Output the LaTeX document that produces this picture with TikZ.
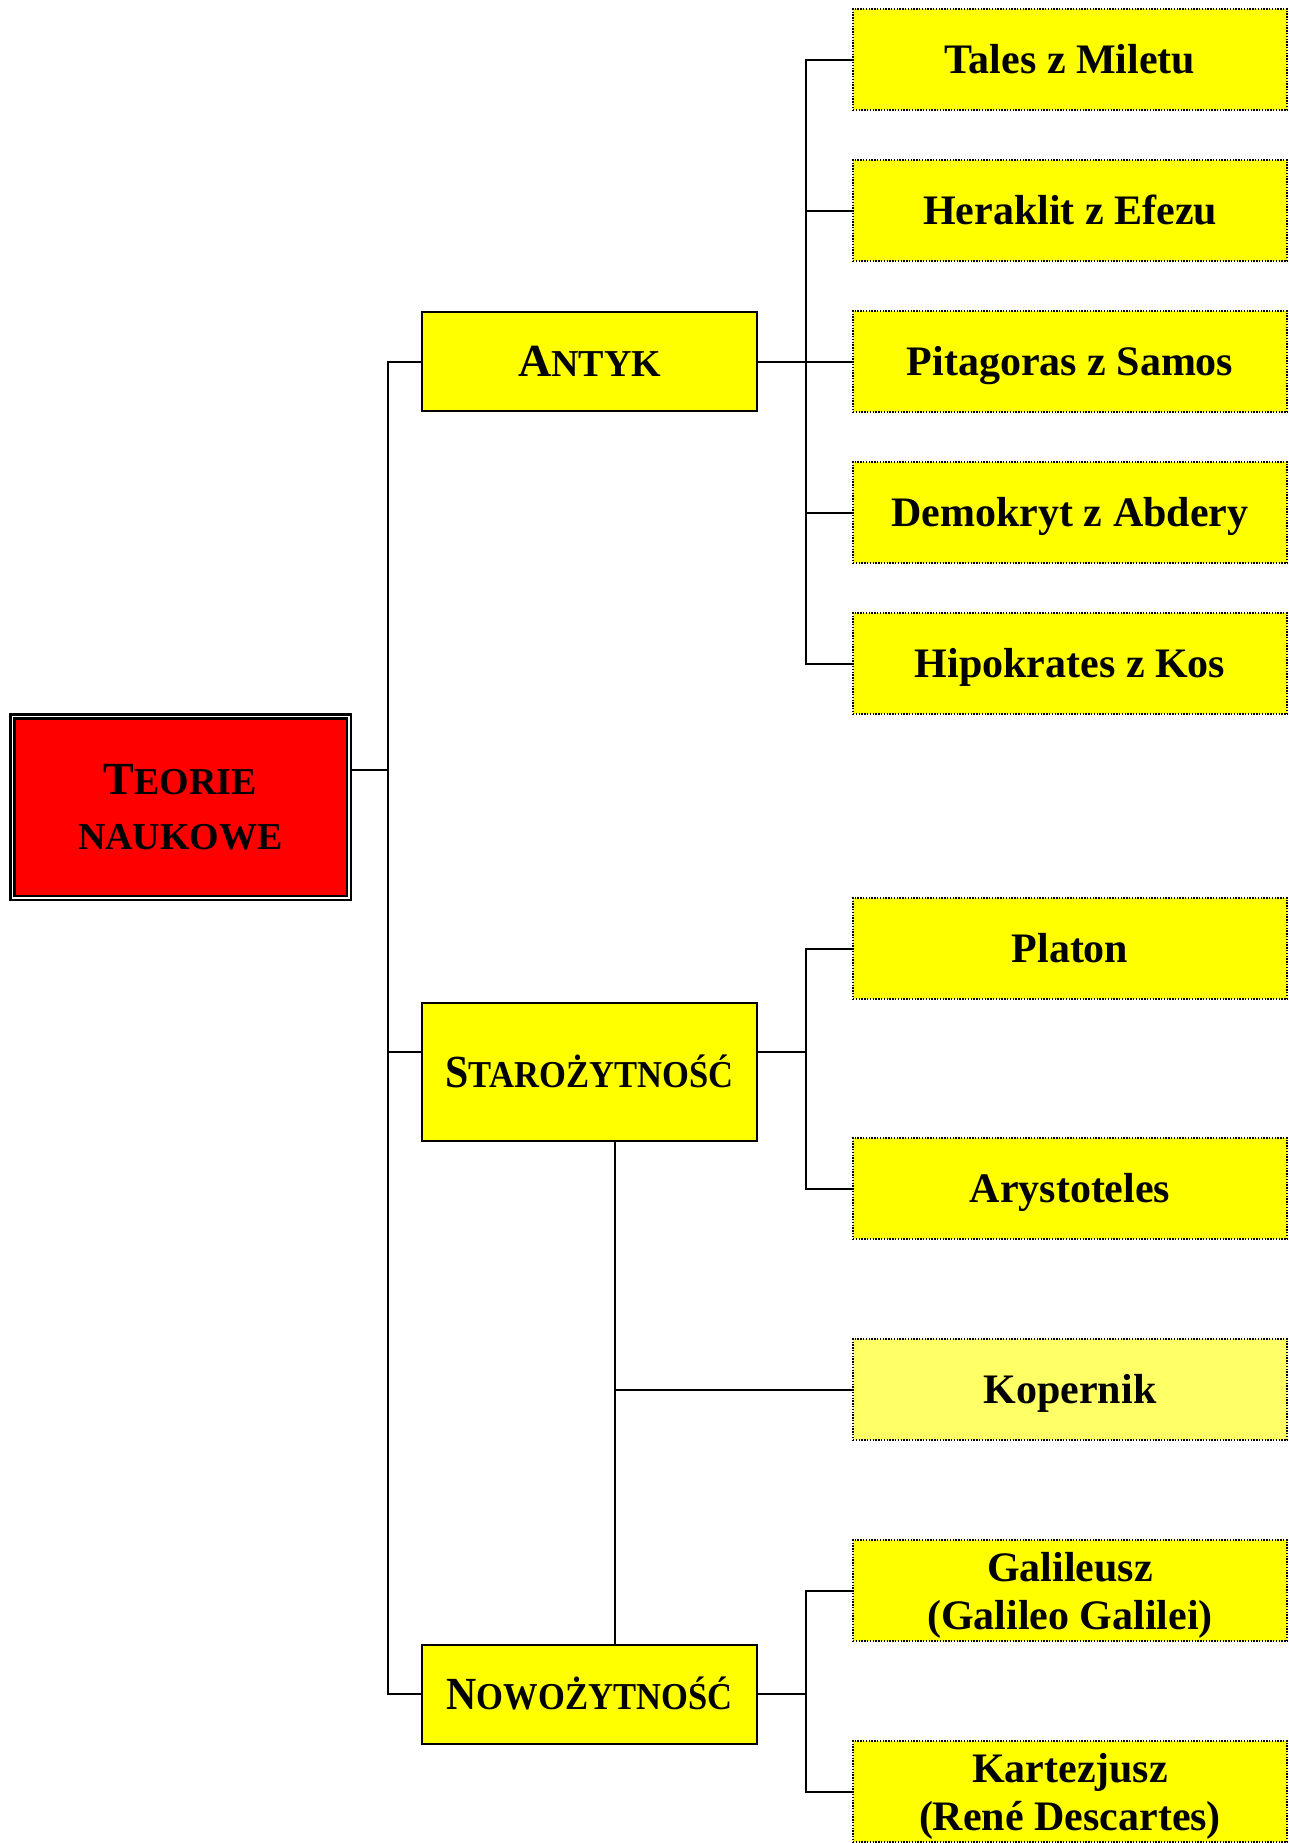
\documentclass[tikz,border=0pt]{standalone}
\usepackage{fontspec}
\setmainfont{Liberation Serif}
\usepackage{graphicx}
\usetikzlibrary{positioning}
\definecolor{zolty}{RGB}{255,255,0}
\definecolor{jasnyzolty}{RGB}{255,255,102}
\definecolor{czerwony}{RGB}{255,0,0}
\newcommand{\kap}[2]{{\fontsize{23}{27.5}\selectfont #1}{\fontsize{19}{23}\selectfont #2}}
\tikzset{
  lisc/.style={draw,line width=0.7pt,dash pattern=on 0.7pt off 0.7pt,fill=zolty,
    minimum width=217pt,minimum height=50.5pt,inner sep=0pt,outer sep=0pt,
    font=\fontsize{21}{24}\selectfont\bfseries,text height=14pt,text depth=0pt},
  liscII/.style={lisc,align=center,text height=43.5pt,text depth=4.5pt},
  kat/.style={draw,line width=1pt,fill=zolty,minimum width=167.5pt,minimum height=49.5pt,
    inner sep=0pt,font=\bfseries,text height=15.2pt,text depth=0pt},
  korzen/.style={draw,line width=1.3pt,double=white,double distance=0.7pt,fill=czerwony,
    minimum width=168.3pt,minimum height=90.8pt,inner sep=0pt,align=center,
    font=\fontsize{23}{27.5}\selectfont\bfseries},
  linia/.style={line width=1pt}
}
\begin{document}
\begin{tikzpicture}[x=0.5pt,y=-0.5pt,node distance=25pt]
  \useasboundingbox (0,0) rectangle (1289,1843);
  % korzen
  \node[korzen](teorie) at (180.5,807) {\kap{T}{EORIE}\\\kap{}{NAUKOWE}};
  % antyk
  \node[lisc](tales) at (1070,59.5) {Tales z Miletu};
  \node[lisc,below= of tales](heraklit) {Heraklit z Efezu};
  \node[lisc,below= of heraklit](pitagoras) {Pitagoras z Samos};
  \node[lisc,below= of pitagoras](demokryt) {Demokryt z Abdery};
  \node[lisc,below= of demokryt](hipokrates) {Hipokrates z Kos};
  \node[kat,left=47.5pt of pitagoras](antyk) {\kap{A}{NTYK}};
  % starozytnosc
  \node[kat,minimum height=69pt](staro) at (589.5,1072) {\scalebox{0.91}[1]{\kap{S}{TAROŻYTNOŚĆ}}};
  \node[lisc](platon) at (1070,948.5) {Platon};
  \node[lisc,below=69.5pt of platon](arystoteles) {Arystoteles};
  \node[lisc,fill=jasnyzolty,below=50pt of arystoteles](kopernik) {Kopernik};
  % nowozytnosc
  \node[liscII,below=50pt of kopernik](galileusz) {Galileusz\\(Galileo Galilei)};
  \node[liscII,below=50pt of galileusz](kartezjusz) {Kartezjusz\\(René Descartes)};
  \node[kat](nowo) at (589.5,1694) {\scalebox{0.91}[1]{\kap{N}{OWOŻYTNOŚĆ}}};
  % wezly linii
  \coordinate (jroot) at (388,770);
  \coordinate (jstaro) at ([yshift=10pt]staro.west);
  \coordinate (jstaroE) at ([yshift=10pt]staro.east);
  \coordinate (bA) at (806,362);
  \coordinate (bS) at (jstaroE -| bA);
  \coordinate (bN) at (nowo.east -| bA);
  \coordinate (bK) at (kopernik.west -| 615,0);
  % linie
  \draw[linia] (teorie.east |- jroot) -- (jroot);
  \draw[linia] (antyk.west) -| (jroot) |- (nowo.west);
  \draw[linia] (jroot |- jstaro) -- (jstaro);
  \draw[linia] (antyk.east) -- (pitagoras.west);
  \draw[linia] (tales.west) -| (bA) |- (hipokrates.west);
  \draw[linia] (heraklit.west) -| (bA);
  \draw[linia] (demokryt.west) -| (bA);
  \draw[linia] (jstaroE) -- (bS);
  \draw[linia] (platon.west) -| (bS) |- (arystoteles.west);
  \draw[linia] (staro.south -| bK) -- (nowo.north -| bK);
  \draw[linia] (bK) -- (kopernik.west);
  \draw[linia] (nowo.east) -- (bN);
  \draw[linia] (galileusz.west) -| (bN) |- (kartezjusz.west);
\end{tikzpicture}
\end{document}
